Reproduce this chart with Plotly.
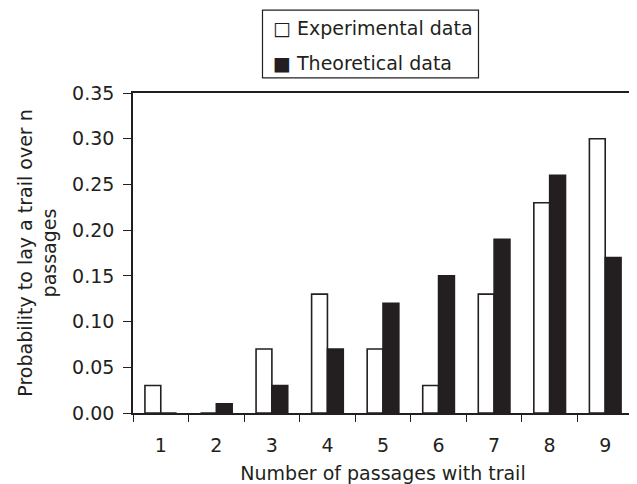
import plotly.graph_objects as go

categories = ["1", "2", "3", "4", "5", "6", "7", "8", "9"]
experimental = [0.03, 0.00, 0.07, 0.13, 0.07, 0.03, 0.13, 0.23, 0.30]
theoretical = [0.00, 0.01, 0.03, 0.07, 0.12, 0.15, 0.19, 0.26, 0.17]
y_ticks = [0.00, 0.05, 0.10, 0.15, 0.20, 0.25, 0.30, 0.35]
series_names = ["Experimental data", "Theoretical data"]

INK = "#231f20"
FONT = "DejaVu Sans"
FS = 19

fig = go.Figure()
fig.add_trace(go.Bar(x=categories, y=experimental, name=series_names[0],
                     marker=dict(color="white", line=dict(color=INK, width=1.6))))
fig.add_trace(go.Bar(x=categories, y=theoretical, name=series_names[1],
                     marker=dict(color=INK, line=dict(color=INK, width=1.6))))

# legend drawn as a boxed text block
fig.add_shape(type="rect", xref="paper", yref="paper",
              x0=0.259, x1=0.691, y0=1.047, y1=1.259,
              line=dict(color=INK, width=1.2), fillcolor="rgba(0,0,0,0)", layer="above")
fig.add_annotation(xref="paper", yref="paper", x=0.275, y=1.203,
                   xanchor="left", yanchor="middle", showarrow=False,
                   text="□ " + series_names[0], font=dict(family=FONT, size=FS, color=INK))
fig.add_annotation(xref="paper", yref="paper", x=0.275, y=1.094,
                   xanchor="left", yanchor="middle", showarrow=False,
                   text="■ " + series_names[1], font=dict(family=FONT, size=FS, color=INK))

fig.update_layout(
    width=629, height=476,
    margin=dict(l=125, r=2, t=85, b=71),
    paper_bgcolor="white", plot_bgcolor="white",
    barmode="group", bargap=0.43, bargroupgap=0,
    showlegend=False,
    font=dict(family=FONT, size=FS, color=INK),
    xaxis=dict(title=dict(text="Number of passages with trail", standoff=13,
                          font=dict(family=FONT, size=FS)),
               showline=True, linecolor=INK, linewidth=1.6, mirror=True,
               ticks="outside", tickson="boundaries", ticklen=7, tickcolor=INK, tickwidth=1.3,
               ticklabelstandoff=14,
               showgrid=False, tickfont=dict(family=FONT, size=FS)),
    yaxis=dict(title=dict(text="Probability to lay a trail over n<br>passages", standoff=10,
                          font=dict(family=FONT, size=FS)),
               range=[0, 0.35], tickvals=y_ticks, tickformat=".2f",
               showline=True, linecolor=INK, linewidth=1.6, mirror=True,
               ticks="outside", ticklen=8, tickcolor=INK, tickwidth=1.3,
               ticklabelstandoff=5,
               showgrid=False, zeroline=False, tickfont=dict(family=FONT, size=FS)),
)

fig.write_html("out.html")
